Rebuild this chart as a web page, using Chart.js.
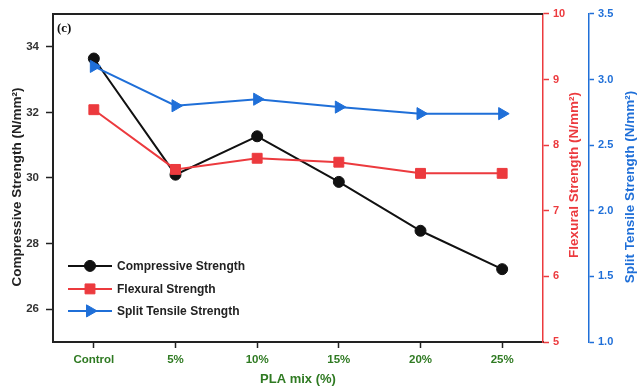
<!DOCTYPE html>
<html>
<head>
<meta charset="utf-8">
<script src="https://cdn.jsdelivr.net/npm/chart.js@4.4.1/dist/chart.umd.min.js"></script>
<style>
  html, body { margin: 0; padding: 0; background: #ffffff; }
  #wrap { width: 638px; height: 389px; position: relative; }
  canvas { display: block; }
</style>
</head>
<body>
<div id="wrap"><canvas id="c" width="638" height="389"></canvas></div>
<script>
// PLA replacement levels
const categories = ['Control', '5%', '10%', '15%', '20%', '25%'];

// Strength results (N/mm²)
const compressiveStrength = [33.64, 30.10, 31.27, 29.88, 28.39, 27.22];
const flexuralStrength    = [8.54, 7.63, 7.80, 7.74, 7.57, 7.57];
const splitTensileStrength = [3.10, 2.80, 2.85, 2.79, 2.74, 2.74];

// Axis tick labels
const compressiveTicks = [26, 28, 30, 32, 34];
const flexuralTicks = [5, 6, 7, 8, 9, 10];
const splitTicks = [1.0, 1.5, 2.0, 2.5, 3.0, 3.5];

const BLACK = '#111111';
const RED = '#ec3a3e';
const BLUE = '#1f6fd8';
const GREEN = '#2f7a22';
const FONT = "'Liberation Sans', Arial, sans-serif";

function fixedTicks(list) {
  return function (scale) { scale.ticks = list.map(v => ({ value: v })); };
}

// Frame top edge, axis titles, panel tag and the in-plot legend
const decorations = {
  id: 'decorations',
  afterDraw(chart) {
    const ctx = chart.ctx;
    const a = chart.chartArea;
    ctx.save();
    ctx.strokeStyle = '#222222';
    ctx.lineWidth = 2;
    ctx.beginPath();
    ctx.moveTo(a.left - 1, a.top);
    ctx.lineTo(a.right, a.top);
    ctx.stroke();

    ctx.fillStyle = '#111111';
    ctx.font = "bold 13px 'Liberation Serif', 'DejaVu Serif', serif";
    ctx.textAlign = 'left';
    ctx.textBaseline = 'middle';
    ctx.fillText('(c)', a.left + 4, a.top + 15);

    const vTitle = (text, x, y, color) => {
      ctx.save();
      ctx.translate(x, y);
      ctx.rotate(-Math.PI / 2);
      ctx.fillStyle = color;
      ctx.font = 'bold 13.5px ' + FONT;
      ctx.textAlign = 'center';
      ctx.textBaseline = 'middle';
      ctx.fillText(text, 0, 0);
      ctx.restore();
    };
    vTitle('Compressive Strength (N/mm²)', 17, 187, '#222222');
    vTitle('Flexural Strength (N/mm²)', chart.scales.yFlex.right - 15, 175, RED);
    vTitle('Split Tensile Strength (N/mm²)', chart.scales.ySplit.right - 8, 187, BLUE);

    // legend
    const rowY = [a.top + 252, a.top + 275, a.top + 297];
    chart.data.datasets.forEach((ds, i) => {
      const y = rowY[i];
      const x0 = a.left + 15, x1 = a.left + 59;
      ctx.strokeStyle = ds.borderColor;
      ctx.lineWidth = ds.borderWidth;
      ctx.beginPath();
      ctx.moveTo(x0, y);
      ctx.lineTo(x1, y);
      ctx.stroke();
      ctx.fillStyle = ds.pointBackgroundColor;
      ctx.strokeStyle = ds.pointBorderColor;
      ctx.lineWidth = 1;
      Chart.helpers.drawPoint(ctx, {
        pointStyle: ds.pointStyle,
        rotation: ds.pointRotation || 0,
        radius: ds.pointRadius,
        borderWidth: 1
      }, (x0 + x1) / 2, y);
      ctx.fillStyle = '#222222';
      ctx.font = 'bold 12px ' + FONT;
      ctx.textAlign = 'left';
      ctx.textBaseline = 'middle';
      ctx.fillText(ds.label, x1 + 5, y + 1);
    });
    ctx.restore();
  }
};

new Chart(document.getElementById('c'), {
  type: 'line',
  data: {
    labels: categories,
    datasets: [
      {
        label: 'Compressive Strength',
        data: compressiveStrength,
        yAxisID: 'y',
        borderColor: BLACK,
        backgroundColor: BLACK,
        pointBackgroundColor: BLACK,
        pointBorderColor: BLACK,
        borderWidth: 2,
        pointStyle: 'circle',
        pointRadius: 5.5,
        pointBorderWidth: 1,
        order: 3
      },
      {
        label: 'Flexural Strength',
        data: flexuralStrength,
        yAxisID: 'yFlex',
        borderColor: RED,
        backgroundColor: RED,
        pointBackgroundColor: RED,
        pointBorderColor: RED,
        borderWidth: 2,
        pointStyle: 'rect',
        pointRadius: 7,
        pointBorderWidth: 1,
        order: 2
      },
      {
        label: 'Split Tensile Strength',
        data: splitTensileStrength,
        yAxisID: 'ySplit',
        borderColor: BLUE,
        backgroundColor: BLUE,
        pointBackgroundColor: BLUE,
        pointBorderColor: BLUE,
        borderWidth: 2,
        pointStyle: 'triangle',
        pointRotation: 90,
        pointRadius: 7,
        pointBorderWidth: 1,
        order: 1
      }
    ]
  },
  options: {
    responsive: false,
    animation: false,
    devicePixelRatio: 1,
    layout: { padding: { top: 13, left: 0, right: 0, bottom: 0 } },
    plugins: {
      legend: { display: false },
      tooltip: { enabled: false }
    },
    scales: {
      x: {
        type: 'category',
        offset: true,
        afterFit(scale) { scale.height = 47; },
        grid: {
          display: true, drawOnChartArea: false, drawTicks: true, offset: false,
          tickLength: 6, tickWidth: 1.5, tickColor: '#222222'
        },
        border: { display: true, color: '#222222', width: 2 },
        ticks: {
          color: GREEN, padding: 5, maxRotation: 0, autoSkip: false,
          font: { family: FONT, size: 11.5, weight: 'bold' }
        },
        title: {
          display: true, text: 'PLA mix (%)', color: GREEN, padding: { top: 0, bottom: 2 },
          font: { family: FONT, size: 13, weight: 'bold' }
        }
      },
      y: {
        position: 'left',
        min: 25, max: 35,
        afterBuildTicks: fixedTicks(compressiveTicks),
        afterFit(scale) { scale.width = 53; },
        grid: {
          display: true, drawOnChartArea: false, drawTicks: true,
          tickLength: 7, tickWidth: 1.5, tickColor: '#222222'
        },
        border: { display: true, color: '#222222', width: 2 },
        ticks: {
          color: '#333333', padding: 7,
          font: { family: FONT, size: 11.5, weight: 'bold' }
        }
      },
      yFlex: {
        position: 'right',
        min: 5, max: 10,
        afterBuildTicks: fixedTicks(flexuralTicks),
        afterFit(scale) { scale.width = 46; },
        grid: {
          display: true, drawOnChartArea: false, drawTicks: true,
          tickLength: 6, tickWidth: 1.5, tickColor: RED
        },
        border: { display: true, color: RED, width: 1.5 },
        ticks: {
          color: RED, padding: 4,
          font: { family: FONT, size: 11, weight: 'bold' }
        }
      },
      ySplit: {
        position: 'right',
        min: 1.0, max: 3.5,
        afterBuildTicks: fixedTicks(splitTicks),
        afterFit(scale) { scale.width = 49; },
        grid: {
          display: true, drawOnChartArea: false, drawTicks: true,
          tickLength: 5, tickWidth: 1.5, tickColor: BLUE
        },
        border: { display: true, color: BLUE, width: 1.5 },
        ticks: {
          color: BLUE, padding: 4,
          callback: v => Number(v).toFixed(1),
          font: { family: FONT, size: 11, weight: 'bold' }
        }
      }
    }
  },
  plugins: [decorations]
});
</script>
</body>
</html>
